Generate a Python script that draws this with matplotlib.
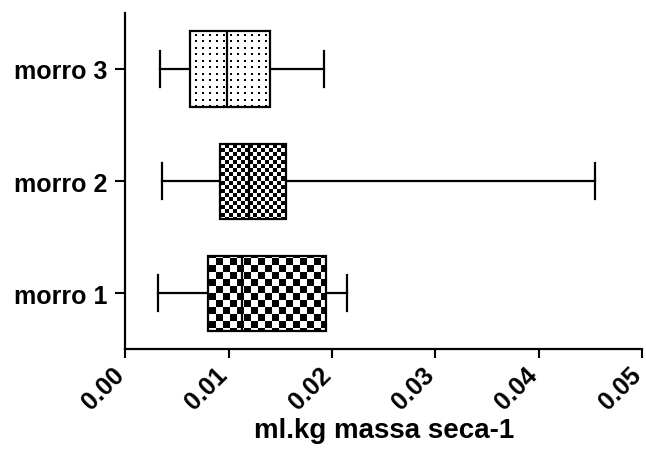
import numpy as np
import matplotlib
matplotlib.use("Agg")
import matplotlib.pyplot as plt

plt.rcParams['font.family'] = ['Liberation Sans', 'DejaVu Sans']
plt.rcParams['font.weight'] = 'bold'

# five-number summaries per site (ml.kg massa seca-1)
groups = ["morro 1", "morro 2", "morro 3"]
whislo = [0.00312, 0.00353, 0.00334]
q1     = [0.00799, 0.00915, 0.00627]
med    = [0.01128, 0.01196, 0.00986]
q3     = [0.01938, 0.01554, 0.01399]
whishi = [0.02144, 0.04545, 0.01922]
xticks = [0.00, 0.01, 0.02, 0.03, 0.04, 0.05]

stats = [dict(label=g, whislo=lo, q1=a, med=m, q3=b, whishi=hi)
         for g, lo, a, m, b, hi in zip(groups, whislo, q1, med, q3, whishi)]

fig = plt.figure(figsize=(6.46, 4.64), dpi=100)
ax = fig.add_axes([0.194, 0.245, 0.800, 0.725])

lw = 1.6
bp = ax.bxp(stats, positions=[1, 2, 3], widths=0.67, capwidths=0.32,
            orientation='horizontal', showfliers=False, patch_artist=True,
            boxprops=dict(facecolor='none', edgecolor='black', linewidth=lw, zorder=4),
            whiskerprops=dict(color='black', linewidth=lw),
            capprops=dict(color='black', linewidth=lw),
            medianprops=dict(color='black', linewidth=lw, zorder=5))

ax.set_xlim(0, 0.05)
ax.set_ylim(0.5, 3.5)

# pixel fill patterns for the boxes
fig.canvas.draw()
bb = ax.get_window_extent()
W, H = int(round(bb.width)), int(round(bb.height))
yy, xx = np.mgrid[0:H, 0:W]

def checker(cell):
    return ((xx // cell + yy // cell) % 2).astype(float)

def dots(px, py, size):
    return (((xx % px) < size) & ((yy % py) < size)).astype(float)

patterns = [checker(7), checker(4), dots(7, 6.5, 2)]

for box, pat in zip(bp['boxes'], patterns):
    im = ax.imshow(pat, cmap='gray_r', vmin=0, vmax=1, interpolation='nearest',
                   extent=(0, 0.05, 0.5, 3.5), origin='lower', aspect='auto', zorder=2)
    im.set_clip_path(box)

ax.set_xlim(0, 0.05)
ax.set_ylim(0.5, 3.5)

ax.spines['top'].set_visible(False)
ax.spines['right'].set_visible(False)
for s in ('left', 'bottom'):
    ax.spines[s].set_linewidth(1.6)

# x tick labels drawn as rotated annotations so they can sit a bit left of the tick
ax.set_xticks(xticks)
ax.set_xticklabels([])
for t in xticks:
    ax.annotate(f"{t:.2f}", xy=(t, 0), xycoords=('data', 'axes fraction'),
                xytext=(-3.5, -15.5), textcoords='offset points',
                rotation=45, ha='right', va='center', rotation_mode='anchor',
                fontsize=18, fontweight='bold', annotation_clip=False)

ax.set_yticks([1, 2, 3])
ax.set_yticklabels(groups, fontsize=18, fontweight='bold')
ax.tick_params(axis='x', length=6.5, width=1.5)
ax.tick_params(axis='y', length=7, width=1.5, pad=6)

ax.set_xlabel("ml.kg massa seca-1", fontsize=20, fontweight='bold')
ax.xaxis.set_label_coords(0.5, -0.2)

fig.savefig("out.png", dpi=100)
